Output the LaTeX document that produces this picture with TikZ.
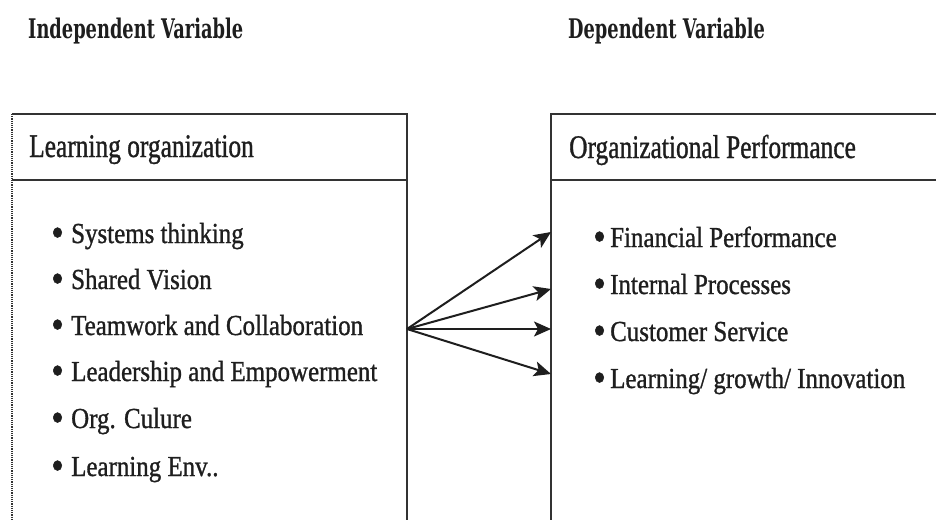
\documentclass[tikz,border=0pt]{standalone}
\usepackage{fontspec}
\usetikzlibrary{arrows.meta}
\newfontfamily\itemfont[FakeStretch=0.86,FakeBold=1]{Liberation Serif}
\newfontfamily\headfont[FakeStretch=0.77,FakeBold=1]{Liberation Serif}
\newfontfamily\varfont[FakeStretch=0.66]{DejaVu Serif}
\definecolor{ink}{HTML}{1E1E1E}
\definecolor{rule}{HTML}{333333}
\tikzset{
  panel/.style={rectangle, inner sep=0pt, outer sep=0pt, anchor=north west},
  frame/.style={draw=rule, line width=1.4pt},
  sideedge/.style={draw=rule, line width=1.2pt, densely dotted},
  varlabel/.style={anchor=base west, inner sep=0pt, text=ink,
    font=\varfont\bfseries\fontsize{27}{27}\selectfont},
  headlabel/.style={anchor=base west, inner sep=0pt, text=ink,
    font=\headfont\fontsize{33}{33}\selectfont},
  itemlabel/.style={anchor=base west, inner sep=0pt, text=ink,
    font=\itemfont\fontsize{29}{29}\selectfont},
  link/.style={draw=ink, line width=2pt,
    -{Stealth[length=17pt,width=15pt,inset=4pt]}}
}
% bullet mark followed by the item text
\newcommand{\bulletitem}[2][16pt]{%
  \makebox[#1][l]{\raisebox{-3.5pt}{\scalebox{1.45}{\textbullet}}}#2}
\begin{document}
\begin{tikzpicture}[x=1pt,y=-1pt]
  \clip (0,0) rectangle (936,519);
  \fill[white] (0,0) rectangle (936,519);

  % column titles
  \node[varlabel] (indep) at (28,38) {Independent Variable};
  \node[varlabel] (dep) at (568,38) {Dependent Variable};

  % the two panels (both run past the lower edge)
  \node[panel, minimum width=395pt, minimum height=440pt] (lbox) at (12,114) {};
  \node[panel, minimum width=420pt, minimum height=440pt] (rbox) at (551,114) {};
  \coordinate (divy) at (0,180);

  % left panel frame
  \draw[frame] (lbox.north west) -- (lbox.north east) -- (lbox.south east);
  \draw[sideedge] (lbox.north west) -- (lbox.south west);
  \draw[frame] (lbox.west |- divy) -- (lbox.east |- divy);

  % right panel frame
  \draw[frame] (rbox.south west) -- (rbox.north west) -- (rbox.north east);
  \draw[frame] (rbox.west |- divy) -- (rbox.east |- divy);

  % panel headings
  \node[headlabel] (lhead) at (29,157) {Learning organization};
  \node[headlabel] (rhead) at (569,158) {Organizational Performance};

  % learning organization dimensions
  \node[itemlabel] (l1) at (51,243) {\bulletitem[20pt]{Systems thinking}};
  \node[itemlabel] (l2) at (51,289) {\bulletitem[20pt]{Shared Vision}};
  \node[itemlabel] (l3) at (51,335) {\bulletitem[20pt]{Teamwork and Collaboration}};
  \node[itemlabel] (l4) at (51,381) {\bulletitem[20pt]{Leadership and Empowerment}};
  \node[itemlabel] (l5) at (51,428) {\bulletitem[20pt]{Org. Culure}};
  \node[itemlabel] (l6) at (51,476) {\bulletitem[20pt]{Learning Env..}};

  % performance dimensions
  \node[itemlabel] (r1) at (593,247) {\bulletitem[17pt]{Financial Performance}};
  \node[itemlabel] (r2) at (593,294) {\bulletitem[17pt]{Internal Processes}};
  \node[itemlabel] (r3) at (593,341) {\bulletitem[17pt]{Customer Service}};
  \node[itemlabel] (r4) at (593,388) {\bulletitem[17pt]{Learning/ growth/ Innovation}};

  % fan of arrows between the panels
  \coordinate (src) at (0,329);
  \coordinate (t1) at (0,232);
  \coordinate (t2) at (0,289);
  \coordinate (t3) at (0,329);
  \coordinate (t4) at (0,374);
  \draw[link] (lbox.east |- src) -- (rbox.west |- t1);
  \draw[link] (lbox.east |- src) -- (rbox.west |- t2);
  \draw[link] (lbox.east |- src) -- (rbox.west |- t3);
  \draw[link] (lbox.east |- src) -- (rbox.west |- t4);
\end{tikzpicture}
\end{document}
